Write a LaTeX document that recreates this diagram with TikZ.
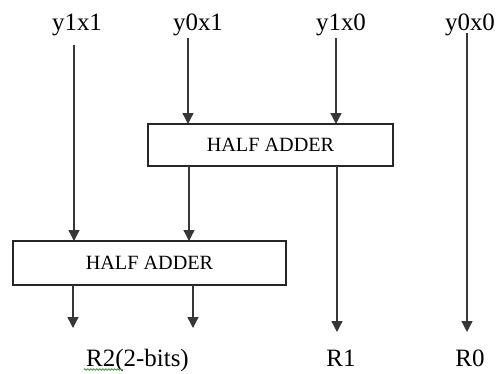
\documentclass[tikz,border=0pt]{standalone}
\usepackage{fontspec}
\setmainfont{Liberation Serif}
\usetikzlibrary{arrows.meta,decorations.pathmorphing}
\definecolor{wiregray}{RGB}{55,55,55}
\definecolor{spellgreen}{RGB}{70,160,60}

\begin{document}
\begin{tikzpicture}[>=Triangle,line cap=butt,line join=miter,
 x=0.2mm,y=-0.2mm,
 wire/.style={wiregray,line width=.75pt,-{Triangle[length=2.2mm,width=2.2mm]}},
 adder/.style={draw=black!85,line width=.9pt,fill=white,
   inner sep=0pt,outer sep=0pt,font=\fontsize{11.5}{13}\selectfont},
 bitlabel/.style={anchor=base,inner sep=0pt,font=\fontsize{14.2}{16}\selectfont}]
 \useasboundingbox (0,0) rectangle (496,373);
 % Iloczyny bitów u góry.
 \node[bitlabel] (y1x1) at (77,31) {y1x1};
 \node[bitlabel] (y0x1) at (198,31) {y0x1};
 \node[bitlabel] (y1x0) at (341,31) {y1x0};
 \node[bitlabel] (y0x0) at (470,31) {y0x0};
 % Dwa półsumatory.
 \node[adder,minimum width=49mm,minimum height=8.4mm]
  (ha1) at (270.5,145) {HALF ADDER};
 \node[adder,minimum width=54.6mm,minimum height=8.8mm]
  (ha2) at (149.5,263) {HALF ADDER};
 % Wyniki na dole.
 \node[bitlabel] (r2) at (137.5,366) {R2(2-bits)};
 \node[bitlabel] (r1) at (341,366) {R1};
 \node[bitlabel] (r0) at (470,366) {R0};
 % Początki i końce przewodów.
 \coordinate (s11) at (74,45);
 \coordinate (s01) at (188,38);
 \coordinate (s10) at (336,38);
 \coordinate (s00) at (467,33);
 \coordinate (e1) at (337,332);
 \coordinate (e0) at (467,332);
 \coordinate (e2a) at (73,328);
 \coordinate (e2b) at (193,328);
 % Przewody.
 \draw[wire] (s01) -- (s01 |- ha1.north);
 \draw[wire] (s10) -- (s10 |- ha1.north);
 \draw[wire] (s11) -- (s11 |- ha2.north);
 \draw[wire] (ha1.south -| 189,0) -- (ha2.north -| 189,0);
 \draw[wire] (ha1.south -| e1) -- (e1);
 \draw[wire] (s00) -- (e0);
 \draw[wire] (ha2.south -| e2a) -- (e2a);
 \draw[wire] (ha2.south -| e2b) -- (e2b);
 % Zielone podkreślenie pod R2.
 \draw[spellgreen,line width=.45pt,
       decorate,decoration={zigzag,segment length=.6mm,amplitude=.15mm}]
  (84,369.5) -- (123,369.5);
\end{tikzpicture}
\end{document}
